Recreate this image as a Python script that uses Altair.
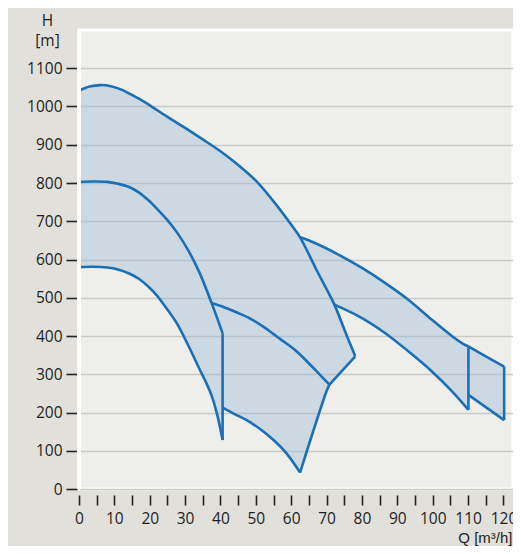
import altair as alt
import pandas as pd

# ---- curves (Q in m3/h, H in m) ----
T1_Q = [0, 3, 6, 9, 12, 15, 18, 21, 25, 30, 35, 40, 45, 50, 55, 59.7, 62.5, 67.3, 72.2, 75.1, 78.1]
T1_H = [1041, 1052, 1056, 1053, 1044, 1030, 1015, 997, 973, 944, 914, 883, 847, 806, 752, 695, 658, 570, 482, 415, 347]

M_Q = [0, 4, 8, 11, 14, 17, 19.5, 22, 25, 28, 31, 34, 37.5, 40.6]
M_H = [803, 804, 803, 798, 790, 775, 756, 733, 703, 667, 622, 567, 486, 407]

L_Q = [0, 4, 8, 11, 14, 17, 19.5, 22, 24.2, 26, 28, 30.8, 34.2, 36, 37.5, 39, 40.6]
L_H = [580, 581, 579, 574, 564, 549, 530, 506, 479, 456, 428, 377, 311, 277, 244, 197, 128]

CT_Q = [37.5, 41, 45, 48.5, 52, 55, 57.5, 61, 64.4, 68.6, 70.8]
CT_H = [486, 475, 460, 445, 425, 405, 388, 364, 334, 294, 273]

CB_Q = [40.6, 44, 47.4, 51, 55, 58.5, 62.5]
CB_H = [213, 196, 180, 158, 128, 95, 43]

DT_Q = [62.5, 66.7, 73.3, 80, 86.5, 93.1, 99.7, 105.4, 108.7, 110.1]
DT_H = [658, 643, 613, 578, 539, 495, 443, 400, 379, 373]

DB_Q = [72.2, 80, 86.5, 93.1, 99.7, 105.4, 110.1]
DB_H = [482, 447, 408, 360, 308, 256, 207]

ET_Q = [110.1, 115, 120.2]
ET_H = [373, 347, 320]
EB_Q = [110.1, 120.2]
EB_H = [246, 180]

C_KINK = (70.0, 256)

X_TICKS = list(range(0, 125, 5))
Y_TICKS = list(range(0, 1200, 100))


def pts(qs, hs):
    return list(zip(qs, hs))


M = pts(M_Q, M_H)
L = pts(L_Q, L_H)
T1 = pts(T1_Q, T1_H)
CT = pts(CT_Q, CT_H)
CB = pts(CB_Q, CB_H)
DT = pts(DT_Q, DT_H)
DB = pts(DB_Q, DB_H)
ET = pts(ET_Q, ET_H)
EB = pts(EB_Q, EB_H)

n_m = M_Q.index(37.5)
i673 = T1_Q.index(67.3)

# closed areas (filled)
polys = {
    "A": M + L[::-1],
    "B": T1 + CT[::-1] + M[:n_m][::-1],
    "C": CT + [C_KINK] + CB[::-1] + [M[-1]],
    "D": DT + DB[::-1] + [T1[i673]],
    "E": ET + EB[::-1],
}

# outlines (stroked, smooth)
lines = {
    "T1": T1, "M": M, "L": L, "CT": CT, "CB": CB, "DT": DT, "DB": DB, "ET": ET, "EB": EB,
    "A_right": [M[-1], L[-1]],
    "B_right": [T1[-1], CT[-1]],
    "C_right": [CT[-1], C_KINK, CB[-1]],
    "D_right": [DT[-1], DB[-1]],
    "E_right": [ET[-1], EB[-1]],
}


def frame(shapes):
    rows = []
    for name, p in shapes.items():
        for i, (q, h) in enumerate(p):
            rows.append({"shape": name, "i": i, "Q": q, "H": h})
    return pd.DataFrame(rows)


df_fill = frame(polys)
df_line = frame(lines)

FONT = "Open Sans"
TFONT = "Liberation Sans"
INK = "#1e1e1e"

x_enc = alt.X("Q:Q",
              scale=alt.Scale(domain=[0, 122.7], nice=False, zero=False),
              axis=alt.Axis(values=X_TICKS,
                            labelExpr="datum.value % 10 == 0 ? datum.label : ''",
                            grid=False, domain=False,
                            tickSize=10, tickWidth=1.6, tickColor="#222222", offset=6,
                            labelFont=FONT, labelFontSize=15.5, labelColor=INK,
                            labelPadding=6, labelFlush=False, labelOverlap=False,
                            title="Q [m³/h]", titleFont=TFONT, titleFontSize=15,
                            titleFontWeight="normal", titleColor=INK,
                            titleAlign="right", titleAnchor="end", titleX=433, titleY=47,
                            titleBaseline="alphabetic"))
y_enc = alt.Y("H:Q",
              scale=alt.Scale(domain=[0, 1200], nice=False),
              axis=alt.Axis(values=Y_TICKS, format="d", grid=True, gridColor="#c9c9c5",
                            gridWidth=1.4, domain=False, tickSize=11, tickWidth=1.6,
                            tickColor="#222222", offset=2, labelFont=FONT,
                            labelFontSize=15.5, labelColor=INK, labelPadding=4,
                            title=["H", "[m]"], titleFont=FONT, titleFontSize=15.5,
                            titleFontWeight="normal", titleColor=INK, titleAngle=0,
                            titleAlign="center", titleX=-30, titleY=-5,
                            titleBaseline="alphabetic", titleLineHeight=20))

fills = alt.Chart(df_fill).mark_line(
    fill="#9dbcd8", fillOpacity=0.42, strokeWidth=0, strokeOpacity=0
).encode(x=x_enc, y=y_enc, order=alt.Order("i:Q"), detail="shape:N")

strokes = alt.Chart(df_line).mark_line(
    color="#1b6fb6", strokeWidth=2.6, interpolate="catmull-rom"
).encode(x=x_enc, y=y_enc, order=alt.Order("i:Q"), detail="shape:N")

border = alt.Chart(df_fill).mark_rule(color="white", strokeWidth=3.5).encode(
    x=alt.value(0), y=alt.value(0), y2=alt.value(459)
)

chart = (fills + strokes + border).properties(
    width=434, height=459,
    autosize="none",
    padding={"left": 71, "top": 22, "right": 0, "bottom": 57},
    background="#e1e0da",
).configure_view(fill="#eeeeea", stroke="white", strokeWidth=3)

chart.save("out.html", embed_options={"renderer": "svg", "actions": False})
